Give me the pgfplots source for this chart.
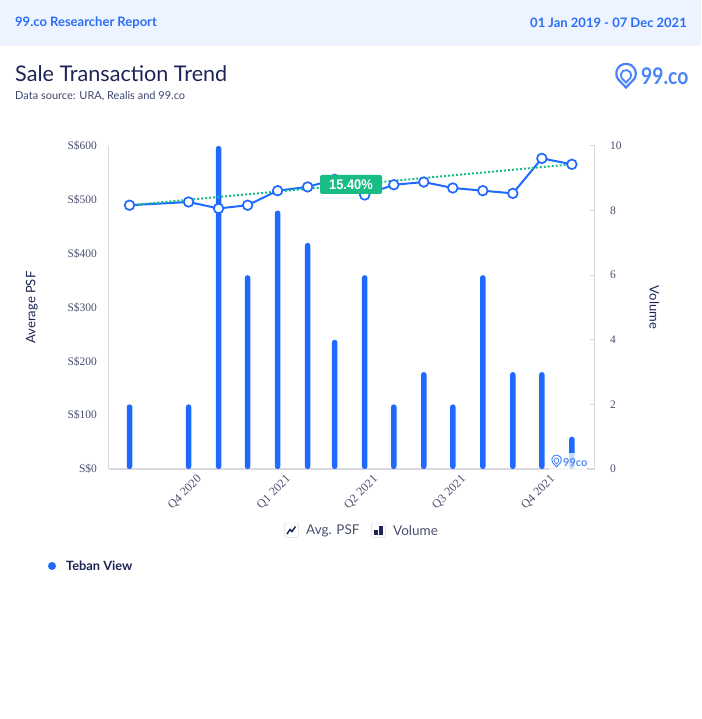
\documentclass[border=0pt]{standalone}
\usepackage{pgfplots}
\pgfplotsset{compat=1.18}
\usepackage{fontspec}
\setmainfont{Lato}
\newfontfamily\tickfont{Liberation Serif}
\newfontfamily\labfont{Liberation Sans}
\definecolor{band}{HTML}{EDF4FF}
\definecolor{hblue}{HTML}{2A6EF5}
\definecolor{barblue}{HTML}{1F69FF}
\definecolor{navy}{HTML}{1D2556}
\definecolor{ticktxt}{HTML}{4A4F70}
\definecolor{axgray}{HTML}{D8D8DE}
\definecolor{grn}{HTML}{1ABC85}
\pgfplotstableread{
day vol psf
0   2  490
61  2  496
92  10 484
122 6  490
153 8  517
184 7  524
212 4  538
243 6  509
273 2  528
304 3  533
334 2  522
365 6  517
396 3  512
426 3  577
457 1  566
}\data
\pgfplotstableread{
day psf
0   490
457 566
}\trend
\newcommand{\fs}[1]{\fontsize{#1}{#1}\selectfont}
\pgfplotsset{common/.style={
  at={(108.5pt,-469pt)},anchor=south west,scale only axis,
  width=486pt,height=323pt,xmin=-21.7,xmax=480.4,ymin=0,
}}
\begin{document}
\begin{tikzpicture}[x=1pt,y=1pt]
\path[use as bounding box,fill=white] (0,0) rectangle (701,-719);
\fill[band] (0,0) rectangle (701,-46);
\node[anchor=west,inner sep=0pt,text=hblue,font=\fs{13}\bfseries] at (15,-23) {99.co Researcher Report};
\node[anchor=east,inner sep=0pt,text=hblue,font=\fs{13}\bfseries] at (687,-23) {01 Jan 2019 - 07 Dec 2021};
\node[anchor=west,inner sep=0pt,text=navy,font=\fs{21.6}] at (15,-74) {Sale Transaction Trend};
\node[anchor=west,inner sep=0pt,text=navy!85,font=\fs{11}] at (15,-96) {Data source: URA, Realis and 99.co};
% logo
\begin{scope}[shift={(626,-76)},draw=hblue!85]
\draw[line width=2.2pt] (0,-11.5) -- (-8,-3.2) arc[start angle=215,end angle=-35,radius=9.8] -- cycle;
\draw[line width=1.8pt] (0,-6.5) -- (-4.3,-2.2) arc[start angle=215,end angle=-35,radius=5.2] -- cycle;
\end{scope}
\node[anchor=west,text=hblue!85,font=\fs{23}\bfseries,inner sep=0pt] at (641,-76.5) {\scalebox{.84}[1]{99.co}};
% volume axis
\begin{axis}[common,ymax=10,
  axis y line*=right,axis x line*=bottom,
  axis line style={axgray,line width=1.2pt,-},
  tick style={axgray,line width=1pt},
  ytick={0,2,4,6,8,10},
  yticklabel style={font=\tickfont\fs{11.5},text=ticktxt,xshift=12pt},
  y tick label style={/pgf/number format/assume math mode=true},
  major tick length=5pt,
  xtick={0,61,153,243,334,426,457},
  xticklabels={,Q4 2020,Q1 2021,Q2 2021,Q3 2021,Q4 2021,},
  xticklabel style={font=\tickfont\fs{12},text=ticktxt,rotate=45,anchor=center,yshift=-14pt,xshift=-19pt},
  ylabel={Volume},
  ylabel style={font=\fs{13},text=navy,rotate=180,yshift=21pt},
  grid=none,
]
\addplot[ybar,bar width=5.5pt,fill=barblue,draw=none,rounded corners=2.6pt] table[x=day,y=vol]{\data};
\end{axis}
% price axis
\begin{axis}[common,ymax=600,
  axis y line*=left,axis x line=none,
  axis line style={axgray,line width=1pt,-},
  major tick length=0pt,
  ytick={0,100,200,300,400,500,600},
  yticklabel={S\$\pgfmathprintnumber{\tick}},
  yticklabel style={font=\tickfont\fs{11.5},text=ticktxt,xshift=-8pt,/pgf/number format/assume math mode=true},
  ylabel={Average PSF},
  ylabel style={font=\fs{13},text=navy,yshift=23pt},
  clip=false,
]
\addplot[barblue,line width=2pt,mark=*,mark size=4.8pt,mark options={fill=white,draw=barblue,line width=1.7pt}] table[x=day,y=psf]{\data};
\addplot[grn,line width=2pt,dash pattern=on 2pt off 2pt] table[x=day,y=psf]{\trend};
\end{axis}
% change tag
\node[fill=grn,rounded corners=2pt,text=white,minimum width=62pt,minimum height=19pt,inner sep=0pt,font=\labfont\fs{14}\bfseries] at (351,-184.5) {\scalebox{.92}[1]{15.40\%}};
% watermark
\fill[white,opacity=.75] (549,-453) rectangle (587,-470);
\begin{scope}[shift={(556.5,-461)},draw=hblue!80]
\draw[line width=1pt] (0,-6) -- (-3.9,-1.6) arc[start angle=215,end angle=-35,radius=4.8] -- cycle;
\draw[line width=.8pt] (0,-3) -- (-2,-.8) arc[start angle=215,end angle=-35,radius=2.4] -- cycle;
\end{scope}
\node[anchor=west,text=hblue!80,font=\fs{11}\bfseries,inner sep=0pt] at (563,-462.5) {99co};
% legend
\draw[axgray,rounded corners=2pt,fill=white] (284.3,-523) rectangle (298.3,-537.3);
\draw[navy,line width=1.5pt] (287,-534) -- (290,-529.5) -- (292,-531.5) -- (295.5,-526.5);
\node[anchor=west,text=ticktxt,font=\fs{13.5},inner sep=0pt] at (306,-531) {Avg. PSF};
\draw[axgray,rounded corners=2pt,fill=white] (371.3,-523) rectangle (385.3,-537.3);
\fill[navy] (374,-535) rectangle (377.5,-530);
\fill[navy] (379,-535) rectangle (382.5,-525.5);
\node[anchor=west,text=ticktxt,font=\fs{13.5},inner sep=0pt] at (393,-531) {Volume};
\fill[barblue] (52,-566) circle (4);
\node[anchor=west,text=navy,font=\fs{12.8}\bfseries,inner sep=0pt] at (66,-566) {Teban View};
\end{tikzpicture}
\end{document}
